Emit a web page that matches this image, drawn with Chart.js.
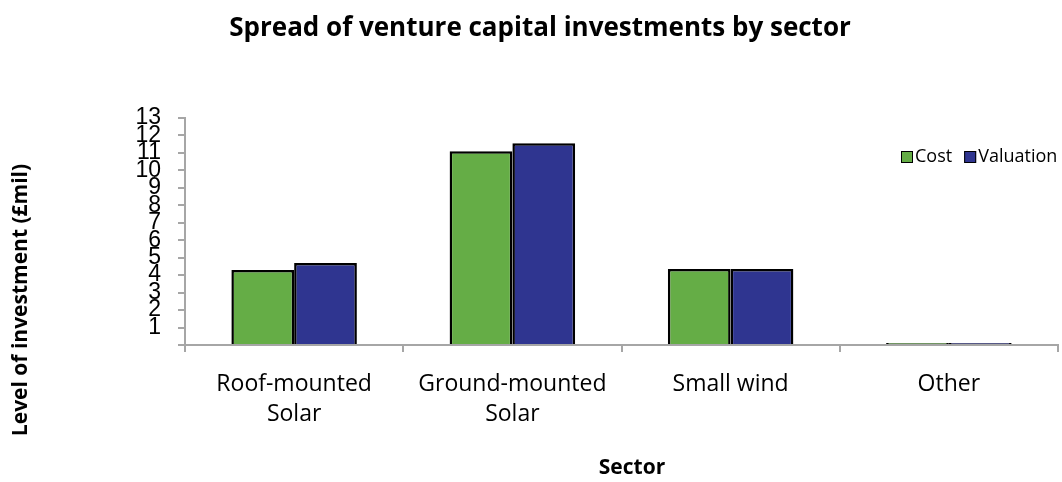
<!DOCTYPE html>
<html>
<head>
<meta charset="utf-8">
<script src="https://cdn.jsdelivr.net/npm/chart.js@4"></script>
<style>
  body { margin: 0; background: #fff; }
  #wrap { width: 1062px; height: 482px; }
</style>
</head>
<body>
<div id="wrap"><canvas id="chart" width="1062" height="482"></canvas></div>
<script>
// values (£mil)
const sectors = [['Roof-mounted', 'Solar'], ['Ground-mounted', 'Solar'], 'Small wind', 'Other'];
const cost = [4.3, 11.1, 4.35, 0.05];
const valuation = [4.7, 11.55, 4.35, 0.05];
const yTicks = [1, 2, 3, 4, 5, 6, 7, 8, 9, 10, 11, 12, 13];

const chartTitle = 'Spread of venture capital investments by sector';
const yTitle = 'Level of investment (£mil)';
const xTitle = 'Sector';

const axisGrey = '#a6a6a6';

// titles + legend drawn by hand, Excel style
const decor = {
  id: 'decor',
  afterDraw(chart) {
    const ctx = chart.ctx;
    ctx.save();
    ctx.fillStyle = '#000';
    ctx.textAlign = 'center';
    ctx.textBaseline = 'middle';

    ctx.font = 'bold 26px "Open Sans"';
    ctx.fillText(chartTitle, 540, 29);

    ctx.font = 'bold 21px "Open Sans"';
    ctx.fillText(xTitle, 632, 468);

    ctx.translate(21, 300);
    ctx.rotate(-Math.PI / 2);
    ctx.fillText(yTitle, 0, 0);
    ctx.restore();

    // legend, top right
    ctx.save();
    ctx.font = '18px "Open Sans"';
    ctx.textBaseline = 'middle';
    ctx.textAlign = 'left';
    let x = 901;
    const y = 157;
    chart.data.datasets.forEach(ds => {
      ctx.fillStyle = ds.backgroundColor;
      ctx.fillRect(x, y - 6, 12, 12);
      ctx.strokeStyle = '#000';
      ctx.lineWidth = 1;
      ctx.strokeRect(x + 0.5, y - 5.5, 11, 11);
      ctx.fillStyle = '#000';
      ctx.fillText(ds.label, x + 14, y);
      x += 14 + ctx.measureText(ds.label).width + 12;
    });
    ctx.restore();
  }
};

new Chart(document.getElementById('chart'), {
  type: 'bar',
  data: {
    labels: sectors,
    datasets: [
      { label: 'Cost', data: cost, backgroundColor: '#65ad46', borderColor: '#000', borderWidth: 2.5, minBarLength: 2 },
      { label: 'Valuation', data: valuation, backgroundColor: '#2f3590', borderColor: '#000', borderWidth: 2.5, minBarLength: 2 }
    ]
  },
  options: {
    responsive: false,
    animation: false,
    layout: { padding: { top: 118, right: 4, left: 0, bottom: 0 } },
    datasets: { bar: { categoryPercentage: 0.575, barPercentage: 1 } },
    plugins: {
      legend: { display: false },
      title: { display: false },
      tooltip: { enabled: false }
    },
    scales: {
      x: {
        afterFit: s => { s.height = 137; },
        grid: { offset: true, drawOnChartArea: false, color: axisGrey, lineWidth: 2, tickLength: 7 },
        border: { color: axisGrey, width: 2 },
        ticks: { color: '#000', font: { family: 'Open Sans', size: 23, lineHeight: 1.3 }, padding: 18, maxRotation: 0 }
      },
      y: {
        min: 0,
        max: 13,
        afterFit: s => { s.width = 185; },
        afterBuildTicks: s => { s.ticks = [0].concat(yTicks).map(v => ({ value: v })); },
        grid: { drawOnChartArea: false, color: axisGrey, lineWidth: 2, tickLength: 7 },
        border: { color: axisGrey, width: 2 },
        ticks: {
          autoSkip: false,
          color: '#000',
          font: { family: 'Liberation Sans', size: 23, lineHeight: 1 },
          padding: 17,
          callback: v => (yTicks.includes(v) ? String(v) : '')
        }
      }
    }
  },
  plugins: [decor]
});
</script>
</body>
</html>
